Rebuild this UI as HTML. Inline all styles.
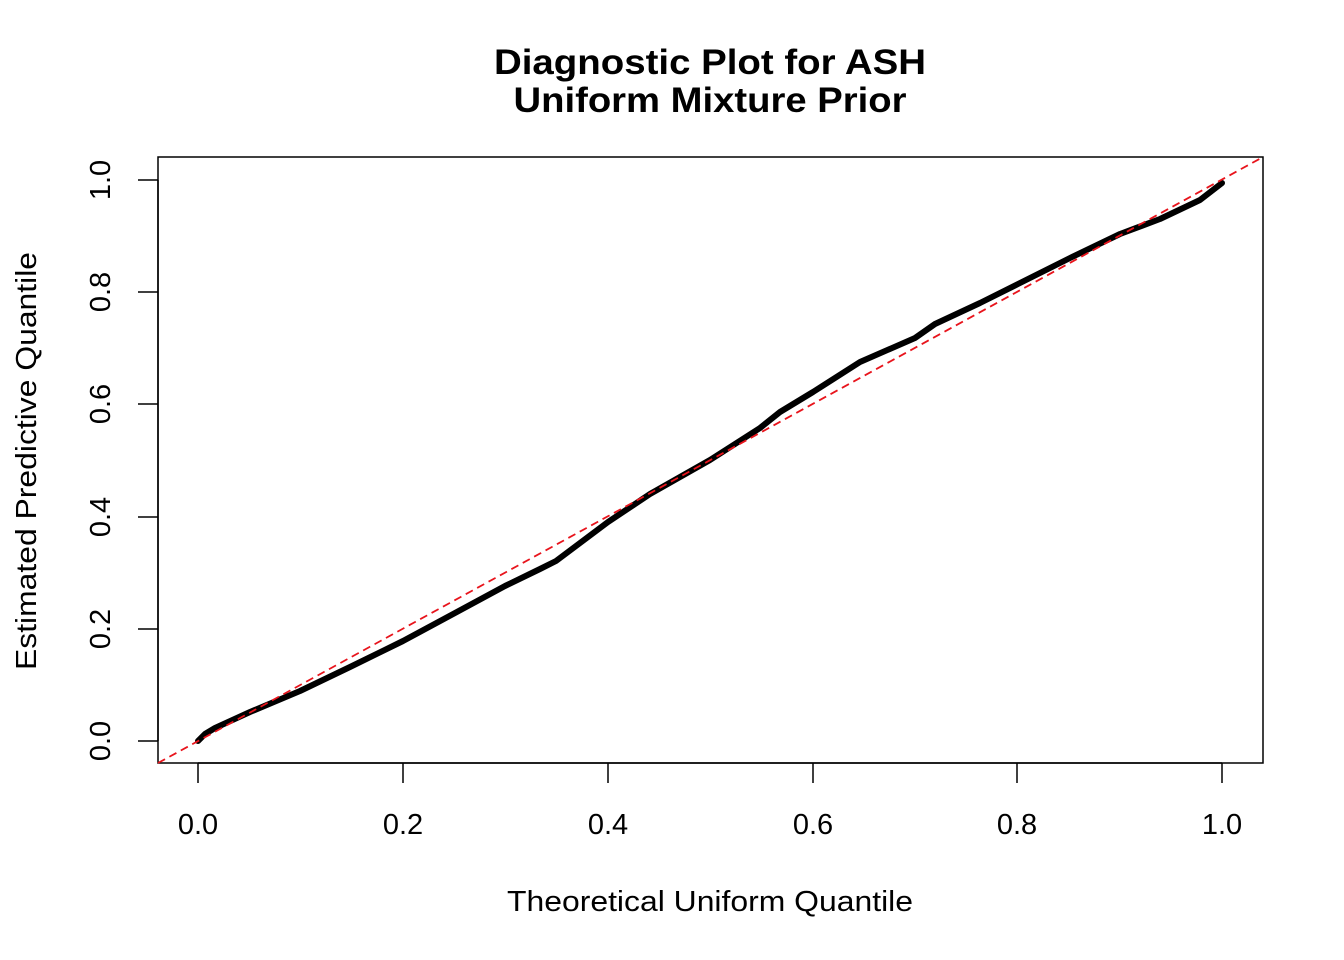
<!DOCTYPE html>
<html><head><style>body{margin:0;background:#fff}svg{display:block}</style></head><body>
<svg width="1344" height="960" xmlns="http://www.w3.org/2000/svg" font-family="Liberation Sans, Arial, sans-serif">
<rect width="1344" height="960" fill="#fff"/>
<text x="710" y="74" font-size="35" font-weight="bold" text-anchor="middle" textLength="432" lengthAdjust="spacingAndGlyphs">Diagnostic Plot for ASH</text>
<text x="710" y="112" font-size="35" font-weight="bold" text-anchor="middle" textLength="393" lengthAdjust="spacingAndGlyphs">Uniform Mixture Prior</text>
<rect x="158" y="157" width="1105" height="606" fill="none" stroke="#000" stroke-width="1.5"/>
<g stroke="#000" stroke-width="1.5">
<line x1="198" y1="763" x2="1222" y2="763"/>
<line x1="198" y1="763" x2="198" y2="783"/><line x1="403" y1="763" x2="403" y2="783"/>
<line x1="608" y1="763" x2="608" y2="783"/><line x1="813" y1="763" x2="813" y2="783"/>
<line x1="1017" y1="763" x2="1017" y2="783"/><line x1="1222" y1="763" x2="1222" y2="783"/>
<line x1="158" y1="741" x2="158" y2="180"/>
<line x1="158" y1="741" x2="138" y2="741"/><line x1="158" y1="629" x2="138" y2="629"/>
<line x1="158" y1="517" x2="138" y2="517"/><line x1="158" y1="404" x2="138" y2="404"/>
<line x1="158" y1="292" x2="138" y2="292"/><line x1="158" y1="180" x2="138" y2="180"/>
</g>
<g font-size="29" text-anchor="middle">
<text x="198" y="834">0.0</text><text x="403" y="834">0.2</text><text x="608" y="834">0.4</text>
<text x="813" y="834">0.6</text><text x="1017" y="834">0.8</text><text x="1222" y="834">1.0</text>
<text x="710" y="911" textLength="406" lengthAdjust="spacingAndGlyphs">Theoretical Uniform Quantile</text>
</g>
<g font-size="29" text-anchor="middle">
<text transform="translate(110,741) rotate(-90)">0.0</text>
<text transform="translate(110,629) rotate(-90)">0.2</text>
<text transform="translate(110,517) rotate(-90)">0.4</text>
<text transform="translate(110,404) rotate(-90)">0.6</text>
<text transform="translate(110,292) rotate(-90)">0.8</text>
<text transform="translate(110,180) rotate(-90)">1.0</text>
<text transform="translate(36,461) rotate(-90)" textLength="418" lengthAdjust="spacingAndGlyphs">Estimated Predictive Quantile</text>
</g>
<polyline fill="none" stroke="#000" stroke-width="6" stroke-linejoin="round" stroke-linecap="round"
points="198,741 205,734 215,728 250,712 300,691 350,667 403,641 455,613 505,586 540,569 556,561 608,522 650,494 710,460 760,428 780,412 813,392 860,362 915,338 935,324 980,303 1018,284 1070,258 1120,234 1160,219 1200,200 1222,183"/>
<line x1="158" y1="763" x2="1263" y2="157" stroke="#e8141c" stroke-width="1.8" stroke-dasharray="8,5"/>
</svg>
</body></html>
